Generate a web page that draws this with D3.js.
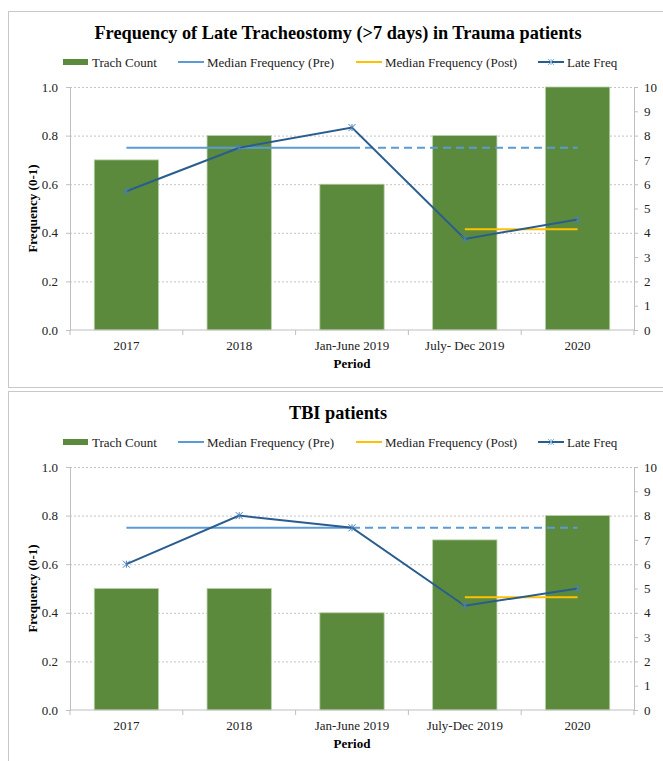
<!DOCTYPE html>
<html>
<head>
<meta charset="utf-8">
<style>
  body { margin: 0; background: #fff; }
  svg { display: block; font-family: "Liberation Serif", "Times New Roman", serif; }
  .axis path, .axis line { stroke: #bfbfbf; }
  .axis text { font-size: 13px; fill: #222; font-family: "Liberation Serif", serif; }
</style>
</head>
<body>
<svg id="chart" width="663" height="761"></svg>
<script src="https://cdnjs.cloudflare.com/ajax/libs/d3/7.8.5/d3.min.js"></script>
<script>
// data
const periods1 = ["2017", "2018", "Jan-June 2019", "July- Dec 2019", "2020"];
const trachCount1 = [7, 8, 6, 8, 10];
const lateFreq1 = [0.571, 0.75, 0.833, 0.375, 0.455];
const medianPre1 = [0.75, 0.75, 0.75, 0.75, 0.75];
const medianPost1 = [null, null, null, 0.415, 0.415];

const periods2 = ["2017", "2018", "Jan-June 2019", "July-Dec 2019", "2020"];
const trachCount2 = [5, 5, 4, 7, 8];
const lateFreq2 = [0.6, 0.8, 0.75, 0.429, 0.5];
const medianPre2 = [0.75, 0.75, 0.75, 0.75, 0.75];
const medianPost2 = [null, null, null, 0.464, 0.464];

const leftTicks = [0, 0.2, 0.4, 0.6, 0.8, 1.0];
const rightTicks = d3.range(0, 11);
const legendLabels = ["Trach Count", "Median Frequency (Pre)", "Median Frequency (Post)", "Late Freq"];

const green = "#5b8a3c", preBlue = "#5b9bd5", gold = "#ffc000", navy = "#2a5d8f";

const svg = d3.select("#chart");

// star marker (x + vertical bar) like excel
const starPath = (cx, cy, r) =>
  `M${cx - r},${cy - r}L${cx + r},${cy + r}M${cx - r},${cy + r}L${cx + r},${cy - r}M${cx},${cy - r}L${cx},${cy + r}`;

const createChart = (opts) => {
  const { top, title, periods, trach, late, pre, post } = opts;
  const g = svg.append("g").attr("transform", "translate(0," + top + ")");

  // panel border
  g.append("rect")
    .attr("x", 8.5).attr("y", 0.5)
    .attr("width", 670).attr("height", 376)
    .attr("fill", "none").attr("stroke", "#c8c8c8");

  g.append("text")
    .attr("x", 338).attr("y", 28)
    .attr("text-anchor", "middle")
    .attr("font-size", "18.3px").attr("font-weight", "bold")
    .text(title);

  // legend
  const leg = g.append("g").attr("transform", "translate(0,51)");
  const legX = [63, 178, 356, 538];
  legendLabels.forEach((lab, i) => {
    const x0 = legX[i];
    if (i === 0) {
      leg.append("rect").attr("x", x0).attr("y", -3).attr("width", 25).attr("height", 6).attr("fill", green);
    } else {
      const col = [null, preBlue, gold, navy][i];
      leg.append("line").attr("x1", x0).attr("x2", x0 + 26).attr("y1", 0).attr("y2", 0)
        .attr("stroke", col).attr("stroke-width", 2);
      if (i === 3) {
        leg.append("path").attr("d", starPath(x0 + 13, 0, 3))
          .attr("stroke", "#7fb0dc").attr("stroke-width", 1).attr("fill", "none");
      }
    }
    leg.append("text").attr("x", x0 + 29).attr("y", 4.5)
      .attr("font-size", "13px").attr("fill", "#222").text(lab);
  });

  const plotTop = 76, plotBottom = 319, left = 70, right = 634;

  const x = d3.scaleBand().domain(periods).range([left, right]).paddingInner(0.43).paddingOuter(0.215);
  const xc = d3.scalePoint().domain(periods).range([left, right]).padding(0.5);
  const y = d3.scaleLinear().domain([0, 1]).range([plotBottom, plotTop]);
  const y2 = d3.scaleLinear().domain([0, 10]).range([plotBottom, plotTop]);

  // grid
  g.append("g").selectAll("line").data(leftTicks.slice(1)).join("line")
    .attr("x1", left).attr("x2", right)
    .attr("y1", d => y(d) + 0.5).attr("y2", d => y(d) + 0.5)
    .attr("stroke", "#c4c4c4").attr("stroke-dasharray", "2,2");

  // bars
  g.append("g").selectAll("rect").data(trach).join("rect")
    .attr("x", (d, i) => x(periods[i]))
    .attr("y", d => y2(d))
    .attr("width", x.bandwidth())
    .attr("height", d => plotBottom - y2(d))
    .attr("fill", green)
    .attr("stroke", "#b9cfa8").attr("stroke-width", 0.8);

  // axes
  g.append("g").attr("class", "axis")
    .attr("transform", "translate(" + left + ",0)")
    .call(d3.axisLeft(y).tickValues(leftTicks).tickFormat(d3.format(".1f")).tickSize(4).tickPadding(8));

  g.append("g").attr("class", "axis")
    .attr("transform", "translate(" + right + ",0)")
    .call(d3.axisRight(y2).tickValues(rightTicks).tickSize(4).tickPadding(6));

  const xAxis = g.append("g").attr("class", "axis")
    .attr("transform", "translate(0," + plotBottom + ")");
  xAxis.append("line").attr("x1", left).attr("x2", right).attr("stroke", "#bfbfbf");
  const step = (right - left) / periods.length;
  xAxis.selectAll(".tk").data(d3.range(periods.length + 1)).join("line")
    .attr("x1", d => left + d * step).attr("x2", d => left + d * step)
    .attr("y1", 0).attr("y2", 5).attr("stroke", "#bfbfbf");
  xAxis.selectAll(".lbl").data(periods).join("text")
    .attr("x", d => xc(d)).attr("y", 20)
    .attr("text-anchor", "middle").attr("font-size", "13px").attr("fill", "#222")
    .text(d => d);

  g.append("text").attr("x", xc(periods[2])).attr("y", 38)
    .attr("transform", "translate(0," + plotBottom + ")")
    .attr("text-anchor", "middle").attr("font-size", "13px").attr("font-weight", "bold")
    .text("Period");

  g.append("text")
    .attr("transform", "translate(37," + ((plotTop + plotBottom) / 2) + ") rotate(-90)")
    .attr("text-anchor", "middle").attr("font-size", "13px").attr("font-weight", "bold")
    .text("Frequency (0-1)");

  // median pre: solid to 3rd period, dashed after
  const line = d3.line().defined(d => d[1] != null).x(d => xc(d[0])).y(d => y(d[1]));
  const preSolid = periods.map((p, i) => [p, i <= 2 ? pre[i] : null]);
  const preDash = periods.map((p, i) => [p, i >= 2 ? pre[i] : null]);
  g.append("path").attr("d", line(preSolid)).attr("fill", "none").attr("stroke", preBlue).attr("stroke-width", 2);
  g.append("path").attr("d", line(preDash)).attr("fill", "none").attr("stroke", preBlue).attr("stroke-width", 2)
    .attr("stroke-dasharray", "8,5");

  g.append("path").attr("d", line(periods.map((p, i) => [p, post[i]])))
    .attr("fill", "none").attr("stroke", gold).attr("stroke-width", 2);

  // late freq
  g.append("path").attr("d", line(periods.map((p, i) => [p, late[i]])))
    .attr("fill", "none").attr("stroke", navy).attr("stroke-width", 2);
  g.append("g").selectAll("path").data(late).join("path")
    .attr("d", (d, i) => starPath(xc(periods[i]), y(d), 3.5))
    .attr("stroke", "#4a7fb5").attr("stroke-width", 1).attr("fill", "none");
};

createChart({ top: 11, title: "Frequency of Late Tracheostomy (>7 days) in Trauma patients",
  periods: periods1, trach: trachCount1, late: lateFreq1, pre: medianPre1, post: medianPost1 });
createChart({ top: 391, title: "TBI patients",
  periods: periods2, trach: trachCount2, late: lateFreq2, pre: medianPre2, post: medianPost2 });
</script>
</body>
</html>
